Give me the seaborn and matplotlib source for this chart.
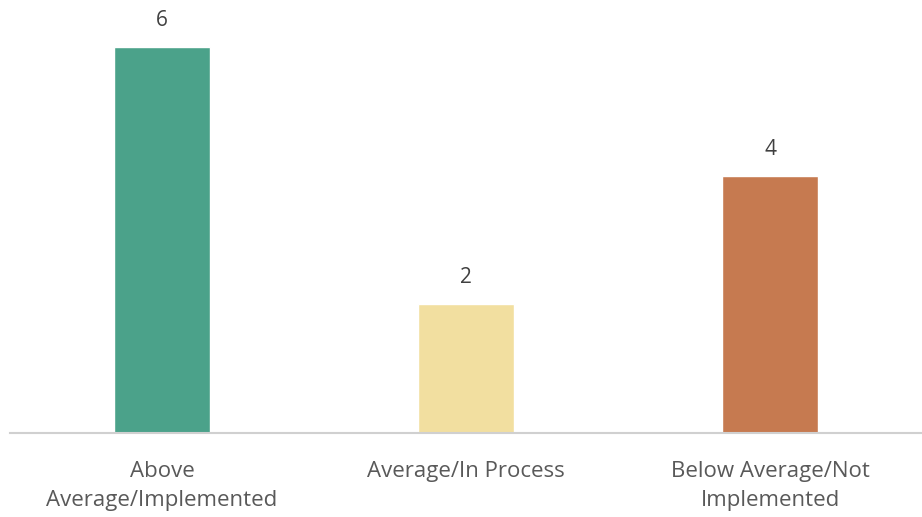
import matplotlib
matplotlib.use("Agg")
import matplotlib.pyplot as plt
import seaborn as sns
import pandas as pd

categories = ["Above\nAverage/Implemented", "Average/In Process", "Below Average/Not\nImplemented"]
counts = [6, 2, 4]
colors = ["#4BA28A", "#F2DFA0", "#C67A50"]

sns.set_style("white")
plt.rcParams["font.family"] = ["Open Sans", "DejaVu Sans"]

df = pd.DataFrame({"category": categories, "count": counts})

fig = plt.figure(figsize=(9.22, 5.17), dpi=100)
ax = fig.add_axes([0.011, 0.1625, 0.989, 0.8375])

sns.barplot(data=df, x="category", y="count", hue="category", palette=colors,
            width=0.315, legend=False, ax=ax, saturation=1)

for i, v in enumerate(counts):
    ax.annotate(str(v), (i, v), xytext=(0, 19), textcoords="offset points",
                ha="center", va="center", fontsize=15, color="#404040")

ax.set_xlim(-0.5, 2.5)
ax.set_ylim(0, 6.73)
ax.set_xlabel("")
ax.set_ylabel("")
ax.set_yticks([])
ax.tick_params(axis="x", length=0, pad=20, labelsize=16, labelcolor="#595959")
for lbl in ax.get_xticklabels():
    lbl.set_linespacing(1.5)
for s in ["top", "left", "right"]:
    ax.spines[s].set_visible(False)
ax.spines["bottom"].set_color("#D0D0D0")
ax.spines["bottom"].set_linewidth(1.5)

fig.savefig("out.png", dpi=100, facecolor="white")
